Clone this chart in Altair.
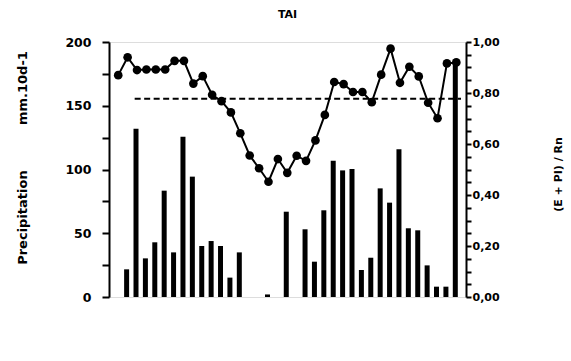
import altair as alt
import pandas as pd

# ---- data ----
decade_index = list(range(37))
precipitation = [0, 21.7, 132, 30.3, 42.9, 83.4, 35, 125.7, 94.4, 40, 43.9, 40, 15.2, 35,
                 0, 0, 2, 0, 66.9, 0, 53.1, 27.7, 68, 106.9, 99.3, 100.4, 21.2, 30.8,
                 85.2, 74, 115.8, 53.9, 52.3, 24.8, 8.1, 8.1, 186]
ratio = [0.87, 0.94, 0.89, 0.892, 0.892, 0.892, 0.926, 0.926, 0.837, 0.866, 0.793, 0.768,
         0.724, 0.642, 0.555, 0.505, 0.452, 0.541, 0.487, 0.554, 0.534, 0.614, 0.714,
         0.843, 0.835, 0.804, 0.804, 0.764, 0.872, 0.974, 0.84, 0.903, 0.865, 0.762,
         0.701, 0.916, 0.92]
x_tick_positions = [k - 0.5 for k in range(38)]
x_label_positions = [0.5, 15.5, 35.5]
x_labels = ["08.79", "01.80", "07.80"]
left_ticks = [0, 25, 50, 75, 100, 125, 150, 175, 200]
right_ticks = [round(0.05 * k, 2) for k in range(21)]
dash_level = 155.5
dash_start = 1.75
dash_end = 36.5

FONT = "DejaVu Sans"
NB = "\u00a0"

df = pd.DataFrame({"i": decade_index, "precip": precipitation, "ratio": ratio})

label_expr = " : ".join(
    f"datum.value == {p} ? '{l}'" for p, l in zip(x_label_positions, x_labels)
) + " : ''"

x_scale = alt.Scale(domain=[-0.45, 36.5], nice=False, zero=False)
x_axis = alt.Axis(
    values=x_tick_positions, labelExpr=label_expr, grid=False,
    tickSize=5, tickWidth=2, tickColor="black", domainWidth=2, domainColor="black",
    labelFont=FONT, labelFontWeight="bold", labelFontSize=12.5, labelColor="black",
    labelPadding=7, labelOverlap=False, labelFlush=False,
    title="decade" + NB * 4 + "." + NB + "year", titleFont=FONT, titleFontSize=17,
    titleFontWeight="bold", titleColor="black", titleX=192.5, titleY=51,
    titleBaseline="middle", titleAlign="center",
)
left_axis = alt.Axis(
    values=left_ticks,
    labelExpr="datum.value % 50 === 0 ? format(datum.value, 'd') : ''",
    grid=False, tickSize=7, tickWidth=2, tickColor="black",
    domainWidth=2, domainColor="black",
    labelFont=FONT, labelFontWeight="bold", labelFontSize=12.5, labelColor="black",
    labelPadding=11, labelOverlap=False,
    title="Precipitation" + NB * 10 + "mm.10d-1", titleFont=FONT, titleFontSize=13,
    titleFontWeight="bold", titleColor="black", titleAngle=270, titleX=-87, titleY=115.5,
    titleBaseline="middle", titleAlign="center",
)
right_axis = alt.Axis(
    orient="right", values=right_ticks,
    labelExpr="round(datum.value*100) % 20 === 0 ? replace(format(datum.value, '.2f'), '.', ',') : ''",
    grid=False, tickSize=5, tickWidth=2, tickColor="black",
    domainWidth=2, domainColor="black",
    labelFont=FONT, labelFontWeight="bold", labelFontSize=11, labelColor="black",
    labelPadding=1, labelOverlap=False,
    title="(E + PI) / Rn", titleFont=FONT, titleFontSize=11, titleFontWeight="bold",
    titleColor="black", titleAngle=270, titleX=92, titleY=132,
    titleBaseline="middle", titleAlign="center",
)

y_left = alt.Scale(domain=[0, 200], nice=False, zero=True)
y_right = alt.Scale(domain=[0, 1], nice=False, zero=True)

base = alt.Chart(df)
bars = base.mark_bar(color="black", width=5, xOffset=-1).encode(
    x=alt.X("i:Q", scale=x_scale, axis=x_axis),
    y=alt.Y("precip:Q", scale=y_left, axis=left_axis),
)
line = base.mark_line(color="black", strokeWidth=2).encode(
    x=alt.X("i:Q", scale=x_scale, axis=None),
    y=alt.Y("ratio:Q", scale=y_right, axis=right_axis),
)
points = base.mark_circle(color="black", size=75, opacity=1).encode(
    x=alt.X("i:Q", scale=x_scale, axis=None),
    y=alt.Y("ratio:Q", scale=y_right, axis=None),
)
dash = base.transform_filter("datum.i == 0").mark_rule(
    color="black", strokeWidth=2, strokeDash=[6, 3.5]
).encode(
    x=alt.datum(dash_start, scale=x_scale, axis=None),
    x2=alt.datum(dash_end),
    y=alt.datum(dash_level, scale=y_left, axis=None),
)

chart = alt.layer(bars, dash, line, points).resolve_scale(y="independent").properties(
    width=357, height=255,
    padding={"left": 109, "top": 42, "right": 105, "bottom": 64},
    autosize="none",
    title=alt.TitleParams("TAI", font=FONT, fontSize=11, fontWeight="bold",
                          anchor="middle", offset=16, color="black"),
)

chart.save("out.html", embed_options={"renderer": "svg", "actions": False})
